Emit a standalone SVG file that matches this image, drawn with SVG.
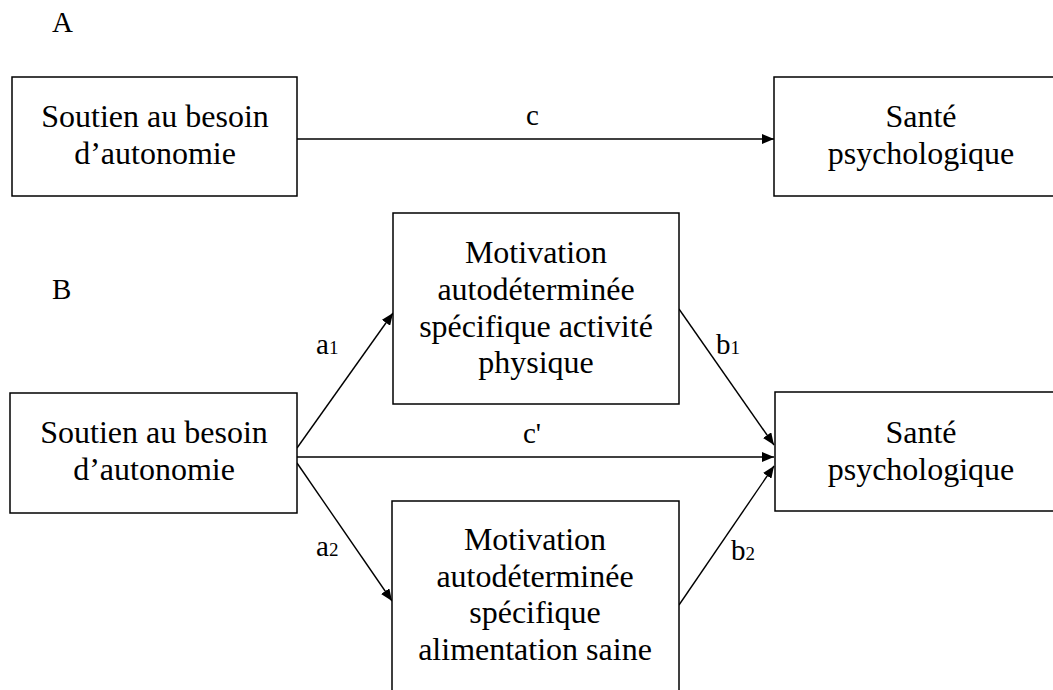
<svg xmlns="http://www.w3.org/2000/svg" width="1053" height="690" viewBox="0 0 1053 690">
<defs>
<style>
.box{fill:#fff;stroke:#000;stroke-width:1.5}
text{font-family:'Liberation Serif','Tinos','Times New Roman','DejaVu Serif',serif;fill:#000}
.t{font-size:32px;text-anchor:middle}
.lbl{font-size:29px}
.sub{font-size:19px}
.edge{stroke:#000;stroke-width:1.4;fill:none;marker-end:url(#ah)}
</style>
<marker id="ah" viewBox="0 0 12 10" refX="12" refY="5" markerWidth="12" markerHeight="10" markerUnits="userSpaceOnUse" orient="auto">
<path d="M0,0 L12,5 L0,10 Z" fill="#000"/>
</marker>
</defs>
<rect width="1053" height="690" fill="#fff"/>
<text class="lbl" x="52" y="32" font-family="Liberation Serif, serif">A</text>
<text class="lbl" x="52" y="299" font-family="Liberation Serif, serif">B</text>
<g id="connectors">
<line class="edge" x1="297" y1="139" x2="774" y2="139"/>
<line class="edge" x1="297" y1="448" x2="393" y2="313"/>
<line class="edge" x1="297" y1="463" x2="392" y2="601"/>
<line class="edge" x1="297" y1="457" x2="774" y2="457"/>
<line class="edge" x1="679" y1="309" x2="774" y2="445"/>
<line class="edge" x1="679" y1="605" x2="774" y2="466"/>
<text class="lbl" x="526" y="125">c</text>
<text class="lbl" x="523" y="443">c'</text>
<text class="lbl" x="316" y="354">a<tspan class="sub">1</tspan></text>
<text class="lbl" x="716" y="354">b<tspan class="sub">1</tspan></text>
<text class="lbl" x="316" y="556">a<tspan class="sub">2</tspan></text>
<text class="lbl" x="731" y="560">b<tspan class="sub">2</tspan></text>
</g>
<g id="nodeA1">
<rect class="box" x="12" y="77" width="285" height="119"/>
<text class="t" x="155" y="127">Soutien au besoin</text>
<text class="t" x="155" y="164">d’autonomie</text>
</g>
<g id="nodeA2">
<rect class="box" x="774" y="77" width="300" height="119"/>
<text class="t" x="921" y="127">Santé</text>
<text class="t" x="921" y="164">psychologique</text>
</g>
<g id="nodeB1">
<rect class="box" x="10" y="393" width="287" height="120"/>
<text class="t" x="154" y="443">Soutien au besoin</text>
<text class="t" x="154" y="480">d’autonomie</text>
</g>
<g id="nodeB2">
<rect class="box" x="393" y="213" width="286" height="191"/>
<text class="t" x="536" y="263">Motivation</text>
<text class="t" x="536" y="300">autodéterminée</text>
<text class="t" x="536" y="337">spécifique activité</text>
<text class="t" x="536" y="373">physique</text>
</g>
<g id="nodeB3">
<rect class="box" x="392" y="501" width="287" height="220"/>
<text class="t" x="535" y="550">Motivation</text>
<text class="t" x="535" y="587">autodéterminée</text>
<text class="t" x="535" y="623">spécifique</text>
<text class="t" x="535" y="660">alimentation saine</text>
</g>
<g id="nodeB4">
<rect class="box" x="775" y="392" width="300" height="119"/>
<text class="t" x="921" y="443">Santé</text>
<text class="t" x="921" y="480">psychologique</text>
</g>
</svg>
